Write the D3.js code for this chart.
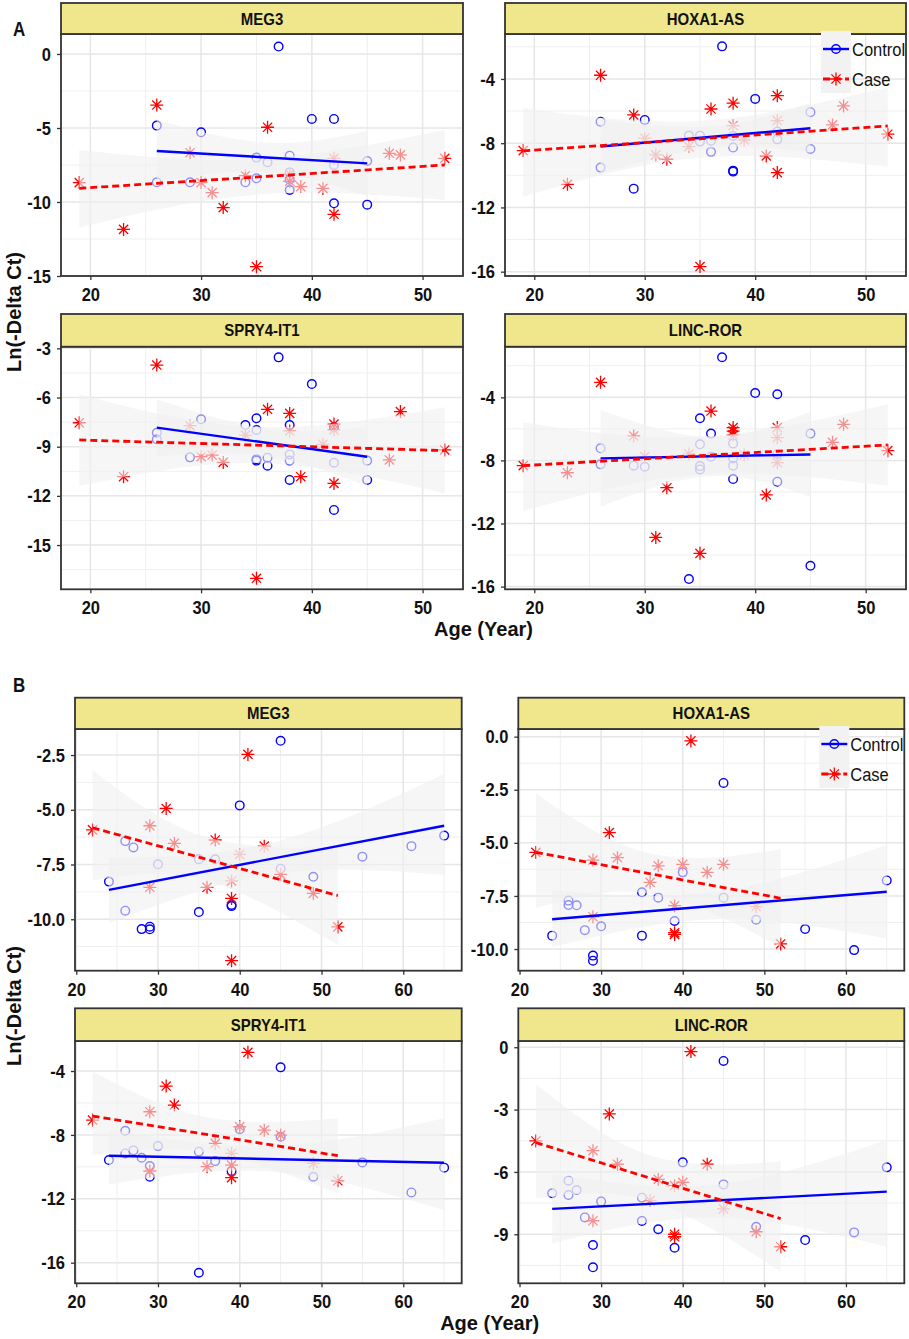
<!DOCTYPE html>
<html>
<head>
<meta charset="utf-8">
<script src="https://cdnjs.cloudflare.com/ajax/libs/d3/7.8.5/d3.min.js"></script>
<style>
  body { margin: 0; background: #fff; }
  svg text { font-family: "Liberation Sans", Arial, sans-serif; fill: #111; }
</style>
</head>
<body>
<svg id="fig" width="909" height="1339"></svg>
<script>
// ---- data ----
var genes = ["MEG3", "HOXA1-AS", "SPRY4-IT1", "LINC-ROR"];
var groups = ["Control", "Case"];
var xTicksA = [20, 30, 40, 50];
var xTicksB = [20, 30, 40, 50, 60];

// panel A : [age, Ln(-Delta Ct)]
var aMEG3Control = [[26,-4.84],[26,-8.67],[29,-8.67],[30,-5.29],[34,-8.67],[35,-7.0],[35,-8.4],[36,-7.32],[37,0.5],[38,-6.87],[38,-8.0],[38,-8.5],[38,-9.19],[40,-4.39],[42,-4.39],[42,-7.5],[42,-10.09],[45,-7.23],[45,-10.18]];
var aMEG3Case = [[19,-8.69],[23,-11.85],[26,-3.45],[29,-6.67],[30,-8.69],[31,-9.37],[32,-10.38],[34,-8.22],[35,-14.37],[36,-4.95],[38,-8.1],[38,-8.6],[39,-8.96],[41,-9.08],[42,-7.05],[42,-10.83],[47,-6.71],[48,-6.82],[52,-7.05]];
var aHOXA1Control = [[26,-6.66],[26,-9.52],[29,-10.83],[30,-6.55],[34,-7.53],[35,-7.53],[35,-7.9],[36,-7.84],[36,-8.54],[37,-1.97],[38,-7.55],[38,-8.27],[38,-9.71],[38,-9.77],[40,-5.24],[42,-7.28],[42,-7.76],[45,-6.07],[45,-8.36]];
var aHOXA1Case = [[19,-8.46],[23,-10.56],[26,-3.77],[29,-6.24],[30,-7.69],[31,-8.73],[32,-9.0],[34,-8.21],[35,-15.68],[36,-5.87],[38,-5.51],[38,-6.9],[39,-7.8],[41,-8.79],[42,-5.04],[42,-6.59],[42,-9.83],[47,-6.86],[48,-5.68],[52,-7.44]];
var aSPRY4Control = [[26,-8.15],[26,-8.55],[29,-9.65],[30,-7.33],[34,-7.68],[35,-7.27],[35,-7.98],[35,-9.77],[35,-9.85],[36,-9.67],[36,-10.16],[37,-3.55],[38,-7.68],[38,-9.47],[38,-9.85],[38,-11.03],[40,-5.18],[42,-7.82],[42,-9.98],[42,-12.86],[45,-9.85],[45,-11.03]];
var aSPRY4Case = [[19,-7.54],[23,-10.83],[26,-4.02],[29,-7.72],[30,-9.61],[31,-9.51],[32,-9.96],[34,-8.29],[35,-17.03],[36,-6.72],[38,-6.97],[38,-8.04],[39,-10.83],[41,-8.86],[42,-7.62],[42,-7.98],[42,-11.24],[47,-9.81],[48,-6.86],[52,-9.2]];
var aLINCControl = [[26,-7.23],[26,-8.25],[29,-8.33],[30,-8.4],[34,-15.52],[35,-5.33],[35,-6.98],[35,-8.36],[35,-8.57],[36,-6.3],[36,-7.76],[37,-1.46],[38,-6.92],[38,-7.87],[38,-8.33],[38,-9.18],[40,-3.73],[42,-3.81],[42,-7.59],[42,-9.35],[45,-6.3],[45,-14.68]];
var aLINCCase = [[19,-8.33],[23,-8.78],[26,-3.05],[29,-6.45],[30,-7.76],[31,-12.88],[32,-9.73],[34,-7.59],[35,-13.89],[36,-4.87],[38,-5.92],[38,-6.14],[38,-6.39],[39,-7.66],[41,-10.19],[42,-5.92],[42,-6.56],[42,-8.14],[47,-6.85],[48,-5.71],[52,-7.38]];

// panel B
var bMEG3Control = [[24,-8.28],[26,-6.43],[26,-9.61],[27,-6.72],[28,-10.45],[29,-10.34],[29,-10.46],[30,-7.49],[35,-7.26],[35,-9.67],[37,-7.26],[39,-9.35],[39,-9.4],[40,-4.8],[45,-1.85],[45,-7.69],[49,-8.06],[55,-7.14],[61,-6.66],[65,-6.18]];
var bMEG3Case = [[22,-5.92],[29,-5.73],[29,-8.54],[31,-4.94],[32,-6.53],[36,-8.54],[37,-6.38],[39,-8.25],[39,-9.05],[39,-11.89],[40,-7.04],[41,-2.47],[43,-6.66],[45,-7.95],[49,-8.82],[52,-10.35]];
var bHOXA1Control = [[24,-9.37],[26,-7.72],[26,-7.93],[27,-7.94],[28,-9.11],[29,-10.31],[29,-10.55],[30,-8.93],[35,-7.33],[35,-9.37],[37,-7.58],[39,-8.68],[40,-6.39],[45,-2.18],[45,-7.58],[49,-8.62],[55,-9.06],[61,-10.05],[65,-6.77]];
var bHOXA1Case = [[22,-5.45],[29,-5.81],[29,-8.48],[31,-4.52],[32,-5.7],[36,-6.86],[37,-6.08],[39,-7.96],[39,-9.23],[39,-9.31],[40,-6.01],[41,-0.2],[43,-6.39],[45,-6.01],[49,-8.0],[52,-9.76]];
var bSPRY4Control = [[24,-9.57],[26,-7.74],[26,-9.16],[27,-8.97],[28,-9.43],[29,-9.95],[29,-10.62],[30,-8.7],[35,-9.05],[35,-16.63],[37,-9.64],[39,-10.26],[40,-7.65],[45,-3.77],[45,-8.11],[49,-10.62],[55,-9.72],[61,-11.6],[65,-10.05]];
var bSPRY4Case = [[22,-7.07],[29,-6.55],[29,-10.26],[31,-4.94],[32,-6.13],[36,-9.99],[37,-8.53],[39,-9.16],[39,-9.89],[39,-10.68],[40,-7.49],[41,-2.83],[43,-7.7],[45,-8.01],[49,-9.78],[52,-10.87]];
var bLINCControl = [[24,-7.03],[26,-6.42],[26,-7.11],[27,-6.87],[28,-8.19],[29,-9.52],[29,-10.59],[30,-7.42],[35,-7.24],[35,-8.36],[37,-8.76],[39,-9.65],[40,-5.54],[45,-0.66],[45,-6.6],[49,-8.64],[55,-9.28],[61,-8.91],[65,-5.78]];
var bLINCCase = [[22,-4.51],[29,-4.98],[29,-8.35],[31,-3.21],[32,-5.63],[36,-7.38],[37,-6.36],[39,-6.66],[39,-9.0],[39,-9.12],[40,-6.5],[41,-0.21],[43,-5.63],[45,-7.78],[49,-8.88],[52,-9.6]];

// fitted lm lines with confidence band: [age, fit, lower, upper]
var aMEG3Fit = { Control: [[26,-6.55,-8.64,-4.46],[36,-6.99,-7.99,-5.99],[45,-7.39,-9.6,-5.2]],
                 Case:    [[19,-9.08,-11.73,-6.49],[35,-8.3,-9.5,-7.1],[52,-7.5,-9.86,-5.14]] };
var aHOXA1Fit = { Control: [[26,-8.21,-9.9,-6.5],[36,-7.61,-8.3,-6.95],[45,-7.07,-8.6,-5.5]],
                  Case:    [[19,-8.48,-11.32,-5.83],[35,-7.73,-8.9,-6.6],[52,-6.93,-9.46,-4.52]] };
var aSPRY4Fit = { Control: [[26,-7.84,-9.6,-6.1],[36,-8.77,-9.6,-7.9],[45,-9.61,-11.4,-7.8]],
                  Case:    [[19,-8.59,-11.4,-5.8],[35,-8.9,-10.0,-7.8],[52,-9.24,-11.85,-6.6]] };
var aLINCFit = { Control: [[26,-7.87,-10.93,-4.8],[36,-7.74,-9.0,-6.5],[45,-7.62,-10.3,-4.9]],
                 Case:    [[19,-8.33,-11.2,-5.6],[35,-7.69,-8.9,-6.5],[52,-7.02,-9.6,-4.44]] };
var bMEG3Fit = { Control: [[24,-8.66,-10.19,-7.19],[44,-7.23,-7.95,-6.5],[65,-5.73,-7.98,-3.37]],
                 Case:    [[22,-5.82,-8.24,-3.18],[35.5,-7.22,-8.2,-6.2],[52,-8.92,-11.18,-6.7]] };
var bHOXA1Fit = { Control: [[24,-8.6,-9.92,-7.22],[44,-7.97,-8.6,-7.3],[65,-7.3,-9.5,-5.1]],
                  Case:    [[22,-5.45,-8.08,-2.67],[36,-6.46,-7.4,-5.5],[52,-7.61,-9.9,-5.3]] };
var bSPRY4Fit = { Control: [[24,-9.3,-11.1,-7.65],[44,-9.51,-10.3,-8.7],[65,-9.74,-12.7,-6.96]],
                  Case:    [[22,-6.82,-9.26,-4.04],[36,-7.98,-9.1,-6.9],[52,-9.3,-11.66,-6.96]] };
var bLINCFit = { Control: [[24,-7.78,-9.44,-6.1],[44,-7.38,-8.2,-6.6],[65,-6.95,-9.6,-4.46]],
                 Case:    [[22,-4.59,-7.27,-1.77],[36,-6.3,-7.4,-5.2],[52,-8.25,-10.8,-5.5]] };

// y tick values per panel
var aMEG3Ticks = [0, -5, -10, -15];
var aHOXA1Ticks = [-4, -8, -12, -16];
var aSPRY4Ticks = [-3, -6, -9, -12, -15];
var aLINCTicks = [-4, -8, -12, -16];
var bMEG3Ticks = [-2.5, -5, -7.5, -10];
var bHOXA1Ticks = [0, -2.5, -5, -7.5, -10];
var bSPRY4Ticks = [-4, -8, -12, -16];
var bLINCTicks = [0, -3, -6, -9];

// ---- layout ----
var layout = {
  A: { xDom: [17.35, 53.65], xTicks: xTicksA,
       cols: [{x0: 61, x1: 463}, {x0: 505, x1: 906}],
       rows: [{stripTop: 3, top: 34, bottom: 276}, {stripTop: 314, top: 346.7, bottom: 589.3}],
       tag: [13, 29], yTitle: 312, xTitle: 636 },
  B: { xDom: [19.85, 67.15], xTicks: xTicksB,
       cols: [{x0: 75, x1: 461.7}, {x0: 518.3, x1: 904.3}],
       rows: [{stripTop: 697.7, top: 729, bottom: 970.7}, {stripTop: 1008.3, top: 1041, bottom: 1283.3}],
       tag: [13, 685], yTitle: 1006, xTitle: 1330 }
};

var panels = [
  {fig: "A", gene: 0, col: 0, row: 0, pts: [aMEG3Control, aMEG3Case], fit: aMEG3Fit, ticks: aMEG3Ticks, yDom: [-15, 1.35], fmt: "d"},
  {fig: "A", gene: 1, col: 1, row: 0, pts: [aHOXA1Control, aHOXA1Case], fit: aHOXA1Fit, ticks: aHOXA1Ticks, yDom: [-16.27, -1.2], fmt: "d", legend: true},
  {fig: "A", gene: 2, col: 0, row: 1, pts: [aSPRY4Control, aSPRY4Case], fit: aSPRY4Fit, ticks: aSPRY4Ticks, yDom: [-17.7, -2.9], fmt: "d"},
  {fig: "A", gene: 3, col: 1, row: 1, pts: [aLINCControl, aLINCCase], fit: aLINCFit, ticks: aLINCTicks, yDom: [-16.17, -0.79], fmt: "d"},
  {fig: "B", gene: 0, col: 0, row: 0, pts: [bMEG3Control, bMEG3Case], fit: bMEG3Fit, ticks: bMEG3Ticks, yDom: [-12.35, -1.31], fmt: ".1f"},
  {fig: "B", gene: 1, col: 1, row: 0, pts: [bHOXA1Control, bHOXA1Case], fit: bHOXA1Fit, ticks: bHOXA1Ticks, yDom: [-11.02, 0.36], fmt: ".1f", legend: true},
  {fig: "B", gene: 2, col: 0, row: 1, pts: [bSPRY4Control, bSPRY4Case], fit: bSPRY4Fit, ticks: bSPRY4Ticks, yDom: [-17.29, -2.12], fmt: "d"},
  {fig: "B", gene: 3, col: 1, row: 1, pts: [bLINCControl, bLINCCase], fit: bLINCFit, ticks: bLINCTicks, yDom: [-11.36, 0.3], fmt: "d"}
];

var colors = { Control: "#0000ff", Case: "#ff0000" };
var SY = 1.15; // the original lettering is taller than it is wide
var svg = d3.select("#fig");

function addText(parent, x, y, str, size, weight, anchor) {
  return parent.append("text")
    .attr("transform", "translate(" + x + "," + y + ") scale(1," + SY + ")")
    .attr("text-anchor", anchor || "middle")
    .attr("dy", "0.35em")
    .style("font-size", size + "px")
    .style("font-weight", weight || "bold")
    .text(str);
}

// plain hyphen instead of the unicode minus, as in the original
function fmtHyphen(spec) {
  var f = d3.format(spec);
  return function (d) { return f(d).replace("\u2212", "-"); };
}

function asterisk(r) {
  var d = "";
  for (var k = 0; k < 4; k++) {
    var a = k * Math.PI / 4, dx = r * Math.cos(a), dy = r * Math.sin(a);
    d += "M" + (-dx) + "," + (-dy) + "L" + dx + "," + dy;
  }
  return d;
}

function minorOf(ticks, dom) {
  var step = Math.abs(ticks[1] - ticks[0]);
  var lo = Math.min(dom[0], dom[1]), hi = Math.max(dom[0], dom[1]);
  var out = [];
  var all = [d3.min(ticks) - step].concat(ticks);
  all.forEach(function (t) {
    var m = t + step / 2;
    if (m > lo && m < hi) out.push(m);
  });
  return out;
}

function drawMarker(g, name, cx, cy) {
  if (name === "Control") {
    g.append("circle").attr("cx", cx).attr("cy", cy).attr("r", 4.3)
      .attr("fill", "none").attr("stroke", colors.Control).attr("stroke-width", 1.4);
  } else {
    g.append("path").attr("d", asterisk(6.5)).attr("transform", "translate(" + cx + "," + cy + ")")
      .attr("fill", "none").attr("stroke", colors.Case).attr("stroke-width", 1.3);
  }
}

function drawPanel(p, idx) {
  var L = layout[p.fig], c = L.cols[p.col], r = L.rows[p.row];
  var x = d3.scaleLinear().domain(L.xDom).range([c.x0, c.x1]);
  var y = d3.scaleLinear().domain(p.yDom).range([r.bottom, r.top]);
  var w = c.x1 - c.x0, h = r.bottom - r.top;
  var g = svg.append("g");

  g.append("clipPath").attr("id", "clip" + idx)
    .append("rect").attr("x", c.x0).attr("y", r.top).attr("width", w).attr("height", h);

  g.append("rect").attr("x", c.x0).attr("y", r.top).attr("width", w).attr("height", h).attr("fill", "#fff");

  var inner = g.append("g").attr("clip-path", "url(#clip" + idx + ")");

  // grid: minor then major
  var xMinor = minorOf(L.xTicks, L.xDom), yMinor = minorOf(p.ticks, p.yDom);
  inner.selectAll(".vmin").data(xMinor).enter().append("line")
    .attr("x1", x).attr("x2", x).attr("y1", r.top).attr("y2", r.bottom)
    .attr("stroke", "#efefef").attr("stroke-width", 1);
  inner.selectAll(".hmin").data(yMinor).enter().append("line")
    .attr("y1", y).attr("y2", y).attr("x1", c.x0).attr("x2", c.x1)
    .attr("stroke", "#efefef").attr("stroke-width", 1);
  inner.selectAll(".vmaj").data(L.xTicks).enter().append("line")
    .attr("x1", x).attr("x2", x).attr("y1", r.top).attr("y2", r.bottom)
    .attr("stroke", "#e6e6e6").attr("stroke-width", 1.5);
  inner.selectAll(".hmaj").data(p.ticks).enter().append("line")
    .attr("y1", y).attr("y2", y).attr("x1", c.x0).attr("x2", c.x1)
    .attr("stroke", "#e6e6e6").attr("stroke-width", 1.5);

  // points
  groups.forEach(function (name, gi) {
    var sel = inner.append("g");
    p.pts[gi].forEach(function (d) { drawMarker(sel, name, x(d[0]), y(d[1])); });
  });

  // confidence ribbons (drawn over the points, as ggplot does)
  var area = d3.area().curve(d3.curveNatural)
    .x(function (d) { return x(d[0]); })
    .y0(function (d) { return y(d[2]); })
    .y1(function (d) { return y(d[3]); });
  groups.forEach(function (name) {
    inner.append("path").attr("d", area(p.fit[name]))
      .attr("fill", "#f0f0f0").attr("fill-opacity", 0.6);
  });

  // fitted lines
  var line = d3.line().x(function (d) { return x(d[0]); }).y(function (d) { return y(d[1]); });
  groups.forEach(function (name) {
    var f = p.fit[name];
    inner.append("path").attr("d", line([f[0], f[f.length - 1]]))
      .attr("fill", "none").attr("stroke", colors[name])
      .attr("stroke-width", name === "Case" ? 2.8 : 2.4)
      .attr("stroke-dasharray", name === "Case" ? "7,4" : null);
  });

  // border and strip
  g.append("rect").attr("x", c.x0).attr("y", r.top).attr("width", w).attr("height", h)
    .attr("fill", "none").attr("stroke", "#333").attr("stroke-width", 1.8);
  g.append("rect").attr("x", c.x0).attr("y", r.stripTop).attr("width", w).attr("height", r.top - r.stripTop)
    .attr("fill", "#f0e68c").attr("stroke", "#333").attr("stroke-width", 1.8);
  addText(g, (c.x0 + c.x1) / 2, (r.stripTop + r.top) / 2, genes[p.gene], 15, "bold");

  // axes
  var ax = g.append("g").attr("transform", "translate(0," + r.bottom + ")")
    .call(d3.axisBottom(x).tickValues(L.xTicks).tickSize(4).tickPadding(6).tickFormat(fmtHyphen("d")));
  var ay = g.append("g").attr("transform", "translate(" + c.x0 + ",0)")
    .call(d3.axisLeft(y).tickValues(p.ticks).tickSize(4).tickPadding(6).tickFormat(fmtHyphen(p.fmt)));
  [ax, ay].forEach(function (a) {
    a.select(".domain").remove();
    a.selectAll(".tick line").attr("stroke", "#333").attr("stroke-width", 1.3);
    a.selectAll(".tick text")
      .attr("transform", "scale(1," + SY + ")")
      .style("font-size", "16.5px").style("font-weight", "bold")
      .style("font-family", "'Liberation Sans', Arial, sans-serif").attr("fill", "#111");
  });

  if (p.legend) drawLegend(c, r);
}

function drawLegend(c, r) {
  var lx = c.x1 - 85, ly = r.top - 3;
  var g = svg.append("g");
  g.append("rect").attr("x", lx).attr("y", ly).attr("width", 30).attr("height", 62).attr("fill", "#f2f2f2");
  groups.forEach(function (name, i) {
    var cy = ly + 18 + i * 30;
    g.append("line").attr("x1", lx + 2).attr("x2", lx + 28).attr("y1", cy).attr("y2", cy)
      .attr("stroke", colors[name]).attr("stroke-width", name === "Case" ? 2.8 : 2.4)
      .attr("stroke-dasharray", name === "Case" ? "7,4" : null);
    drawMarker(g, name, lx + 15, cy);
    addText(g, lx + 31, cy, name, 16.5, "normal", "start");
  });
}

panels.forEach(drawPanel);

// figure tags and shared axis titles
["A", "B"].forEach(function (f) {
  var L = layout[f];
  addText(svg, L.tag[0], L.tag[1], f, 17, "bold", "start");
  var cx = (L.cols[0].x0 + L.cols[1].x1) / 2;
  svg.append("text").attr("x", cx).attr("y", L.xTitle).attr("text-anchor", "middle")
    .style("font-size", "20px").style("font-weight", "bold").text("Age (Year)");
  svg.append("text").attr("transform", "translate(21," + L.yTitle + ") rotate(-90)")
    .attr("text-anchor", "middle")
    .style("font-size", "20px").style("font-weight", "bold").text("Ln(-Delta Ct)");
});
</script>
</body>
</html>
